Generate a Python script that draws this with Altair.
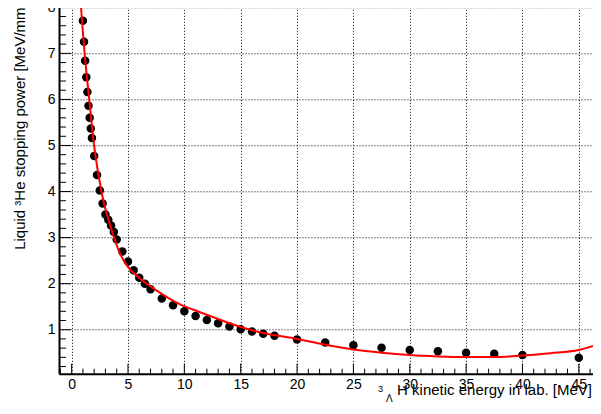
import altair as alt
import pandas as pd

# Data points: kinetic energy [MeV] and stopping power [MeV/mm]
energy = [1.0, 1.1, 1.2, 1.3, 1.4, 1.5, 1.6, 1.7, 1.8,
          2.0, 2.25, 2.5, 2.75, 3.0, 3.25, 3.5, 3.75, 4.0, 4.5, 5.0, 5.5, 6.0, 6.5, 7.0,
          8, 9, 10, 11, 12, 13, 14, 15, 16, 17, 18,
          20, 22.5, 25, 27.5, 30, 32.5, 35, 37.5, 40,
          45]
stopping = [7.71, 7.25, 6.84, 6.48, 6.16, 5.86, 5.60, 5.37, 5.16,
            4.77, 4.36, 4.02, 3.74, 3.50, 3.39, 3.26, 3.12, 2.96, 2.70, 2.48, 2.29, 2.13, 2.00, 1.88,
            1.68, 1.53, 1.40, 1.30, 1.21, 1.14, 1.07, 1.01, 0.96, 0.91, 0.87,
            0.79, 0.72, 0.66, 0.61, 0.56, 0.53, 0.50, 0.48, 0.45,
            0.39]

# Fit curve
curve_x = [0.81, 0.92, 1.13, 1.57, 2.01, 2.52, 2.81, 3.41, 3.85, 4.29, 4.98, 6.07, 7.55,
           9.63, 11.4, 15, 17, 20, 22, 25, 27.5, 30, 32.5, 35, 37.5, 40, 42.5, 45, 47.2]
curve_y = [8.09, 7.71, 7.07, 5.98, 4.97, 4.17, 3.81, 3.28, 2.94, 2.65, 2.37, 2.11, 1.85,
           1.55, 1.38, 1.06, 0.93, 0.80, 0.70, 0.57, 0.50, 0.45, 0.42, 0.405, 0.405, 0.44, 0.49, 0.56, 0.72]

x_major = [0, 5, 10, 15, 20, 25, 30, 35, 40, 45]
x_minor = [v for v in range(-1, 47) if v % 5 != 0]
y_major = [1, 2, 3, 4, 5, 6, 7, 8]
y_minor = [round(0.2 * i, 1) for i in range(1, 41) if i % 5 != 0]

W, H = 534, 370.4
FONT = "Liberation Sans"

xscale = alt.Scale(domain=[-1.12, 46.26], nice=False, zero=False)
yscale = alt.Scale(domain=[0.045, 8.087], nice=False, zero=False)

xaxis = alt.Axis(values=x_major, format="d", title=None, grid=True, gridDash=[1, 2],
                 gridColor="black", gridOpacity=1, ticks=False, tickSize=0,
                 domainColor="black", domainWidth=2, labelFont=FONT, labelFontSize=14,
                 labelColor="black", labelPadding=4, labelFlush=False)
yaxis = alt.Axis(values=y_major, format="d", title=None, grid=True, gridDash=[1, 2],
                 gridColor="black", gridOpacity=1, ticks=False, tickSize=0,
                 domainColor="black", domainWidth=2, labelFont=FONT, labelFontSize=14,
                 labelColor="black", labelPadding=4)

pts = pd.DataFrame({"x": energy, "y": stopping})
crv = pd.DataFrame({"x": curve_x, "y": curve_y})

points = alt.Chart(pts).mark_circle(size=72, color="black", opacity=1).encode(
    x=alt.X("x:Q", scale=xscale, axis=xaxis),
    y=alt.Y("y:Q", scale=yscale, axis=yaxis),
)

line = alt.Chart(crv).mark_line(color="#ff0000", strokeWidth=2, interpolate="monotone", clip=True).encode(
    x=alt.X("x:Q", scale=xscale),
    y=alt.Y("y:Q", scale=yscale),
)

def xticks(vals, length):
    return alt.Chart(pd.DataFrame({"x": vals})).mark_rule(color="black", strokeWidth=1).encode(
        x=alt.X("x:Q", scale=xscale),
        y=alt.value(H), y2=alt.value(H - length))

def yticks(vals, length):
    return alt.Chart(pd.DataFrame({"y": vals})).mark_rule(color="black", strokeWidth=1).encode(
        y=alt.Y("y:Q", scale=yscale),
        x=alt.value(0), x2=alt.value(length))

def label(txt, px, py, size, align="left", angle=0, baseline="alphabetic"):
    return alt.Chart(pd.DataFrame({"t": [txt]})).mark_text(
        font=FONT, fontSize=size, color="black", align=align, angle=angle, baseline=baseline
    ).encode(text="t:N", x=alt.value(px), y=alt.value(py))

top_border = alt.Chart(pd.DataFrame({"y": [8.087]})).mark_rule(color="#555", strokeWidth=1).encode(
    y=alt.Y("y:Q", scale=yscale), x=alt.value(0), x2=alt.value(W))

chart = alt.layer(
    top_border,
    xticks(x_major, 10), xticks(x_minor, 5),
    yticks(y_major, 12), yticks([v for v in y_minor if v < 8.05], 7),
    points,
    line,
    label("H kinetic energy in lab. [MeV]", 533, 391.7, 15, align="right"),
    label("3", 319, 389, 9, align="left"),
    label("\u039b", 327, 399, 10, align="left"),
    label("Liquid \u00b3He stopping power [MeV/mm]", -34, 0, 15, align="right", angle=270),
).properties(
    width=W, height=H,
    autosize=alt.AutoSizeParams(type="none"),
    padding={"left": 51, "top": -4.7, "right": 0, "bottom": 32},
).configure_view(strokeWidth=0)

chart.save("out.html", embed_options={"renderer": "svg", "actions": False})
